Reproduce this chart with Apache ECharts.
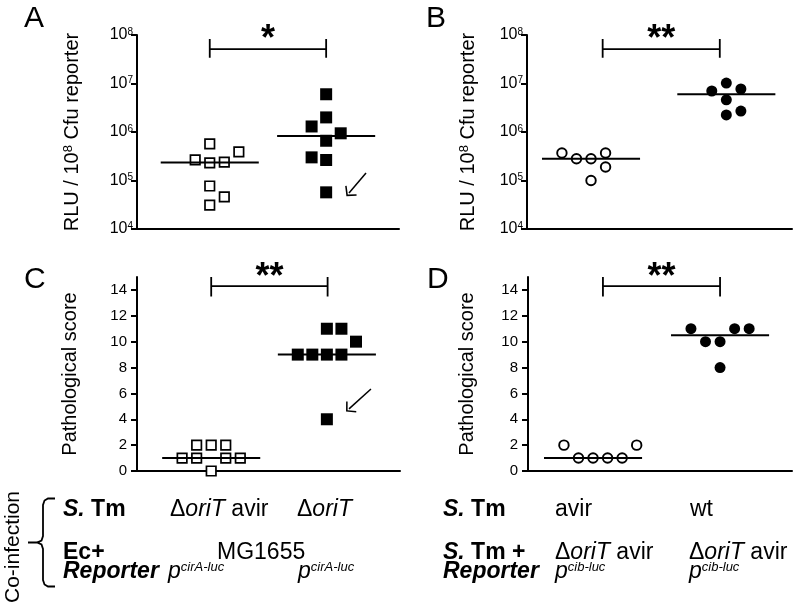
<!DOCTYPE html>
<html lang="en">
<head>
    <meta charset="UTF-8">
    <title>Co-infection reporter and pathology</title>
    <script src="https://cdn.jsdelivr.net/npm/echarts@6.0.0/dist/echarts.min.js"></script>
    <style>
        html, body { margin: 0; padding: 0; background: #fff; }
        #chart { width: 797px; height: 607px; }
    </style>
</head>
<body>
<div id="chart"></div>
<script type="text/javascript">
// ---------- values ----------
// A: RLU / 10^8 Cfu reporter (log scale), squares
var aOpenValues   = [5.7e5, 3.9e5, 2.65e5, 2.3e5, 2.4e5, 7.7e4, 4.6e4, 3.1e4];
var aOpenSlots    = [0, 2, -1, 0, 1, 0, 1, 0];
var aFilledValues = [6.0e6, 2.0e6, 1.3e6, 9.4e5, 6.6e5, 3.0e5, 2.65e5, 5.7e4];
var aFilledSlots  = [0, 0, -1, 1, 0, -1, 0, 0];
var aMedians      = [2.35e5, 8.3e5];

// B: RLU / 10^8 Cfu reporter (log scale), circles
var bOpenValues   = [3.7e5, 2.8e5, 2.8e5, 3.7e5, 1.9e5, 1.0e5];
var bOpenSlots    = [-2, -1, 0, 1, 1, 0];
var bFilledValues = [1.02e7, 7.0e6, 7.7e6, 4.6e6, 2.25e6, 2.7e6];
var bFilledSlots  = [0, -1, 1, 0, 0, 1];
var bMedians      = [2.8e5, 6.0e6];

// C: pathological score, squares
var cOpenValues   = [2, 2, 2, 1, 1, 1, 1, 0];
var cOpenSlots    = [-1, 0, 1, -2, -1, 1, 2, 0];
var cFilledValues = [11, 11, 10, 9, 9, 9, 9, 4];
var cFilledSlots  = [0, 1, 2, -2, -1, 0, 1, 0];
var cMedians      = [1, 9];

// D: pathological score, circles
var dOpenValues   = [2, 1, 1, 1, 1, 2];
var dOpenSlots    = [-2, -1, 0, 1, 2, 3];
var dFilledValues = [11, 10, 10, 11, 11, 8];
var dFilledSlots  = [-2, -1, 0, 1, 2, 0];
var dMedians      = [1, 10.5];

var scoreTicks   = [0, 2, 4, 6, 8, 10, 12, 14];
var significance = ['*', '**', '**', '**'];
var panelLetters = ['A', 'B', 'C', 'D'];

// arrows pointing at the outlier (panel A and C), in data units
var aArrow = [[15.74, 1.43e5], [14.57, 5.5e4]];
var cArrow = [[16.08, 6.34], [14.57, 4.8]];

// ---------- layout ----------
var FONT = 'Liberation Sans, Arial, Helvetica, sans-serif';
var SLOT_PX = 14.55;      // one jitter slot = one x unit
var HALF_MEDIAN = 3.37;   // half width of the median bar, in slots
var chevron = 'path://M10,0 L20,9 L18.6,10.4 L10,2.8 L1.4,10.4 L0,9 Z';

var panels = [
    { grid: { left: 137, top: 35, width: 262, height: 194 }, log: true, shape: 'rect',
      open: [aOpenValues, aOpenSlots], filled: [aFilledValues, aFilledSlots], medians: aMedians,
      centers: [5, 13], bracketX: [5, 13], bracket: [3.4e7, 8.3e7, 5.1e7], starY: 8.0e7,
      name: 'RLU / 10{s|8} Cfu reporter', nameGap: 55, letterPos: [24, 19], arrow: aArrow },
    { grid: { left: 527, top: 35, width: 265, height: 194 }, log: true, shape: 'circle',
      open: [bOpenValues, bOpenSlots], filled: [bFilledValues, bFilledSlots], medians: bMedians,
      centers: [4.4, 13.7], bracketX: [5.2, 13.25], bracket: [3.4e7, 8.3e7, 5.1e7], starY: 8.0e7,
      name: 'RLU / 10{s|8} Cfu reporter', nameGap: 49, letterPos: [426, 19] },
    { grid: { left: 137, top: 277, width: 263, height: 194 }, log: false, shape: 'rect',
      open: [cOpenValues, cOpenSlots], filled: [cFilledValues, cFilledSlots], medians: cMedians,
      centers: [5.1, 13.05], bracketX: [5.1, 13.1], bracket: [13.5, 15.0, 14.3], starY: 14.92,
      name: 'Pathological score', nameGap: 57, letterPos: [24, 280], arrow: cArrow },
    { grid: { left: 528, top: 277, width: 264, height: 194 }, log: false, shape: 'circle',
      open: [dOpenValues, dOpenSlots], filled: [dFilledValues, dFilledSlots], medians: dMedians,
      centers: [4.47, 13.2], bracketX: [5.15, 13.2], bracket: [13.5, 15.0, 14.3], starY: 14.92,
      name: 'Pathological score', nameGap: 51, letterPos: [427, 280] }
];

var supRich = {
    b: { fontSize: 16, fontFamily: FONT, color: '#000', lineHeight: 16 },
    s: { fontSize: 10, fontFamily: FONT, color: '#000', lineHeight: 10, verticalAlign: 'top' }
};
var nameRich = {
    s: { fontSize: 13, fontFamily: FONT, color: '#000', lineHeight: 13, verticalAlign: 'top' }
};

var grids = [], xAxes = [], yAxes = [], series = [];

panels.forEach(function (p, i) {
    grids.push(p.grid);

    xAxes.push({
        gridIndex: i, type: 'value', min: 0, max: p.grid.width / SLOT_PX,
        axisLine: { show: true, onZero: false, lineStyle: { color: '#000', width: 2 } },
        axisTick: { show: false }, axisLabel: { show: false }, splitLine: { show: false }
    });

    var y = {
        gridIndex: i, name: p.name, nameLocation: 'middle', nameGap: p.nameGap,
        nameTextStyle: { fontSize: 20, color: '#000', fontFamily: FONT, rich: nameRich },
        axisLine: { show: true, onZero: false, lineStyle: { color: '#000', width: 2 } },
        axisTick: { show: true, length: 6, lineStyle: { color: '#000', width: 2 } },
        splitLine: { show: false }
    };
    if (p.log) {
        y.type = 'log'; y.logBase = 10; y.min = 1e4; y.max = 1e8;
        y.axisLabel = {
            margin: 4, color: '#000', rich: supRich,
            formatter: function (v) { return '{b|10}{s|' + Math.round(Math.log10(v)) + '}'; }
        };
    } else {
        y.type = 'value'; y.min = 0; y.max = 15;
        y.axisTick.customValues = scoreTicks;
        y.axisLabel = { margin: 10, color: '#000', fontSize: 15, fontFamily: FONT, customValues: scoreTicks };
    }
    yAxes.push(y);

    // dots: open group then filled group
    [p.open, p.filled].forEach(function (grp, g) {
        var pts = grp[0].map(function (v, k) { return [p.centers[g] + grp[1][k], v]; });
        var filled = g === 1;
        var item = filled
            ? { color: '#000', opacity: 1 }
            : { color: '#fff', borderColor: '#000', opacity: 1, borderWidth: p.shape === 'rect' ? 1.7 : 1.9 };
        var s = {
            type: 'scatter', xAxisIndex: i, yAxisIndex: i, clip: false, z: 3,
            symbol: p.shape, symbolSize: filled ? (p.shape === 'rect' ? 12 : 11) : 9.5,
            itemStyle: item, data: pts
        };
        if (filled && p.arrow) {
            s.markLine = {
                silent: true, animation: false, symbol: ['none', chevron], symbolSize: [15, 8],
                lineStyle: { color: '#000', width: 1.5, type: 'solid', opacity: 1 }, label: { show: false },
                data: [[{ coord: p.arrow[0] }, { coord: p.arrow[1] }]]
            };
        }
        series.push(s);

        // median bar
        series.push({
            type: 'line', xAxisIndex: i, yAxisIndex: i, symbol: 'none', z: 4, clip: false,
            lineStyle: { color: '#000', width: 2 },
            data: [[p.centers[g] - HALF_MEDIAN, p.medians[g]], [p.centers[g] + HALF_MEDIAN, p.medians[g]]]
        });
    });

    // significance bracket
    var bx = p.bracketX, b = p.bracket;
    series.push({
        type: 'line', xAxisIndex: i, yAxisIndex: i, symbol: 'none', clip: false,
        lineStyle: { color: '#000', width: 1.8 },
        data: [[bx[0], b[0]], [bx[0], b[1]], [bx[0], b[2]], [bx[1], b[2]], [bx[1], b[1]], [bx[1], b[0]]]
    });
    series.push({
        type: 'scatter', xAxisIndex: i, yAxisIndex: i, clip: false, symbolSize: 1,
        itemStyle: { color: 'rgba(0,0,0,0)', opacity: 1 },
        label: { show: true, position: 'inside', formatter: significance[i],
                 fontSize: 36, fontWeight: 'bold', color: '#000', opacity: 1, fontFamily: FONT },
        data: [[(bx[0] + bx[1]) / 2, p.starY]]
    });
});

// ---------- co-infection table under the plots ----------
var tableRich = {
    b:   { fontSize: 23, fontWeight: 'bold', fontFamily: FONT, fill: '#000' },
    bi:  { fontSize: 23, fontWeight: 'bold', fontStyle: 'italic', fontFamily: FONT, fill: '#000' },
    n:   { fontSize: 23, fontFamily: FONT, fill: '#000' },
    i:   { fontSize: 23, fontStyle: 'italic', fontFamily: FONT, fill: '#000' },
    sup: { fontSize: 13, fontStyle: 'italic', fontFamily: FONT, fill: '#000', verticalAlign: 'top', lineHeight: 15 }
};
var deltaAvir = '{n|\u0394}{i|oriT}{n| avir}';
var tableCells = [
    [63, 510, '{bi|S.}{b| Tm}'], [170, 510, deltaAvir], [297, 510, '{n|\u0394}{i|oriT}'],
    [63, 553, '{b|Ec+}'], [217, 553, '{n|MG1655}'],
    [63, 572, '{bi|Reporter}'], [168, 572, '{i|p}{sup|cirA-luc}'], [298, 572, '{i|p}{sup|cirA-luc}'],
    [443, 510, '{bi|S.}{b| Tm}'], [555, 510, '{n|avir}'], [690, 510, '{n|wt}'],
    [443, 553, '{bi|S.}{b| Tm +}'], [555, 553, deltaAvir], [689, 553, deltaAvir],
    [443, 572, '{bi|Reporter}'], [555, 572, '{i|p}{sup|cib-luc}'], [689, 572, '{i|p}{sup|cib-luc}']
];

var graphics = tableCells.map(function (c) {
    return { type: 'text', x: c[0], y: c[1],
             style: { text: c[2], rich: tableRich, fill: '#000', align: 'left', verticalAlign: 'middle' } };
});

panels.forEach(function (p, i) {
    graphics.push({ type: 'text', x: p.letterPos[0], y: p.letterPos[1],
        style: { text: panelLetters[i], font: '30px ' + FONT, fill: '#000', verticalAlign: 'middle' } });
});

graphics.push({ type: 'text', x: 13, y: 547, rotation: Math.PI / 2,
    style: { text: 'Co-infection', font: '21px ' + FONT, fill: '#000', align: 'center', verticalAlign: 'middle' } });

// curly brace
graphics.push({ type: 'polyline', silent: true,
    shape: { points: [[55, 498.5], [48, 498.5], [44.5, 500.5], [43, 505], [43, 536], [41.5, 540.5], [37, 542.5], [28, 542.5],
                      [37, 542.5], [41.5, 544.5], [43, 549], [43, 580], [44.5, 584.5], [48, 586.5], [55, 586.5]] },
    style: { stroke: '#000', lineWidth: 1.8, fill: null } });

var chart = echarts.init(document.getElementById('chart'));
chart.setOption({
    animation: false,
    textStyle: { fontFamily: FONT, color: '#000' },
    grid: grids,
    xAxis: xAxes,
    yAxis: yAxes,
    series: series,
    graphic: graphics
});
</script>
</body>
</html>
